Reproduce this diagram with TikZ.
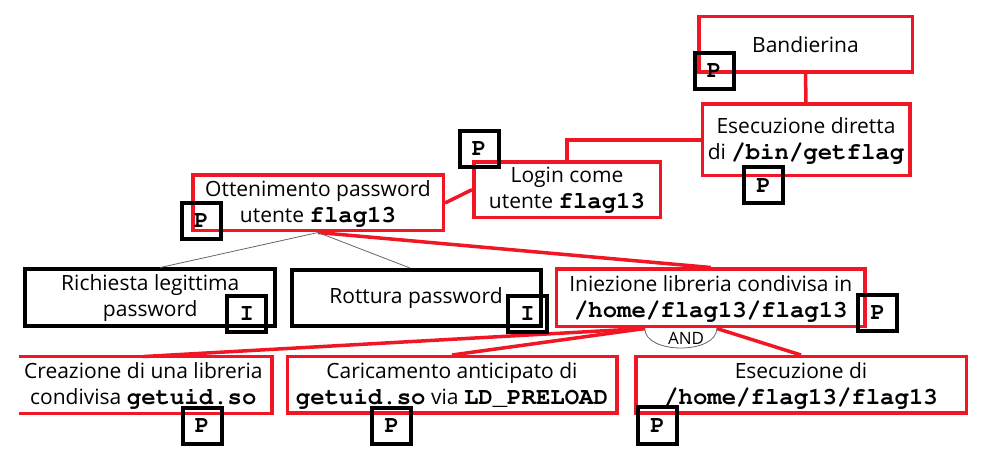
\documentclass[tikz,border=0pt]{standalone}
\usepackage[T1]{fontenc}
\usepackage{fontspec}
\setmainfont{Open Sans}
\usetikzlibrary{positioning}
\definecolor{attack}{RGB}{240,22,36}
\newcommand{\tcode}[1]{{\fontencoding{T1}\fontfamily{pcr}\fontseries{b}\fontsize{24bp}{26bp}\selectfont #1}}

\begin{document}
\begin{tikzpicture}[x=1bp,y=-1bp,align=center,
    every node/.style={font=\fontsize{21bp}{26bp}\selectfont,inner sep=0pt},
    goal/.style={draw=attack,line width=3.5bp,rectangle},
    leaf/.style={draw=black,line width=4bp,rectangle},
    tag/.style={draw=black,line width=4bp,minimum width=39bp,minimum height=36bp,
        font=\fontencoding{T1}\fontfamily{pcr}\fontseries{b}\fontsize{24bp}{24bp}\selectfont},
    red edge/.style={draw=attack,line width=3.5bp},
    or edge/.style={draw=black!60,line width=0.8bp}]
        \useasboundingbox (0,0) rectangle (989,457);

        \node[goal,minimum width=213.5bp,minimum height=55.5bp] (band) at (805.5,44.5) {Bandierina};
        \node[goal,minimum width=207.5bp,minimum height=71.5bp] (exe) at (806,140) {Esecuzione diretta\\di \tcode{/bin/getflag}};
        \node[goal,minimum width=186.5bp,minimum height=55.5bp] (login) at (567,189.7) {Login come\\utente \tcode{flag13}};
        \node[goal,minimum width=250.5bp,minimum height=55.5bp] (ott) at (318,203) {Ottenimento password\\utente \tcode{flag13}};
        \node[leaf,minimum width=250bp,minimum height=57bp] (rich) at (150.3,298) {Richiesta legittima\\password};
        \node[leaf,minimum width=249bp,minimum height=56bp] (rott) at (416,298) {Rottura password};
        \node[goal,minimum width=308.5bp,minimum height=57.5bp] (ini) at (710.8,298) {Iniezione libreria condivisa in\\\tcode{/home/flag13/flag13}};
        \node[minimum width=256.5bp,minimum height=56.5bp] (cre) at (143.3,385) {Creazione di una libreria\\condivisa \tcode{getuid.so}};
        \node[goal,minimum width=329.5bp,minimum height=56.5bp] (car) at (452,385) {Caricamento anticipato di\\\tcode{getuid.so} via \tcode{LD\_PRELOAD}};
        \node[goal,minimum width=330.5bp,minimum height=56.5bp] (esd) at (801,385) {Esecuzione di\\\tcode{/home/flag13/flag13}};

        \coordinate (andL) at ([xshift=-66bp]ini.south);
        \coordinate (andR) at ([xshift=6bp]ini.south);

        \draw[red edge] ([xshift=4bp]cre.north west) -- (cre.north east) -- (cre.south east) -- ([xshift=4bp]cre.south west);
        \draw[red edge] (login.north) |- (exe.west);
        \path[red edge] (band.south) edge (exe.north)
                        (ott.east) edge (login.west)
                        (ott.south) edge (ini.north)
                        (andL) edge (cre.north)
                               edge (car.north)
                        (andR) edge (esd.north);
        \path[or edge] (ott.south) edge ([xshift=10bp]rich.north)
                                   edge ([xshift=-6bp]rott.north);
        \draw[or edge] (andL) .. controls ([yshift=-26bp]andL) and ([yshift=-26bp]andR) .. (andR);
        \node[font=\fontsize{17bp}{17bp}\selectfont] (andlbl) at (686,338) {AND};

        \node[tag] (bandP) at (714,70.7) {P};
        \node[tag] (exeP) at (763.5,185.5) {P};
        \node[tag] (loginP) at (479,149) {P};
        \node[tag] (ottP) at (201.3,220.8) {P};
        \node[tag] (richI) at (246.7,314.3) {I};
        \node[tag] (rottI) at (527.5,314) {I};
        \node[tag] (iniP) at (877.7,312.7) {P};
        \node[tag] (creP) at (202,426) {P};
        \node[tag] (carP) at (391.7,426) {P};
        \node[tag] (esdP) at (657.5,425.5) {P};
\end{tikzpicture}
\end{document}
